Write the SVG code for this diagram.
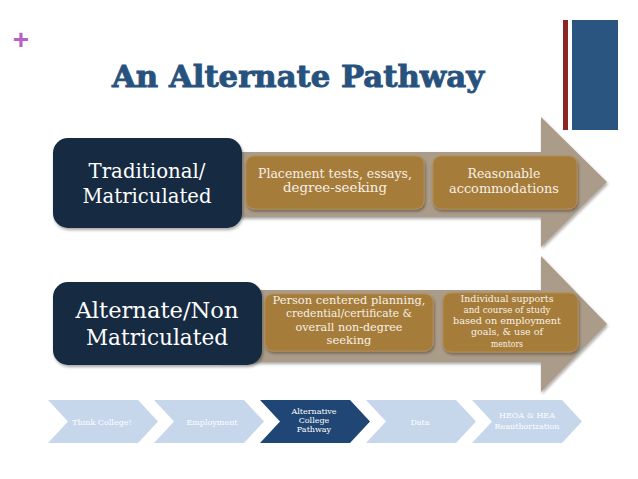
<svg xmlns="http://www.w3.org/2000/svg" width="638" height="479" viewBox="0 0 638 479">
<defs>
<filter id="sh" x="-10%" y="-10%" width="130%" height="140%">
<feDropShadow dx="1" dy="2" stdDeviation="1.5" flood-color="#000" flood-opacity="0.35"/>
</filter>
<style>
.dark{fill:#132a42;filter:url(#sh)}
.gold{fill:#a67b3a;stroke:#b58d50;stroke-width:1;filter:url(#sh)}
.arrow{fill:#aa9c88;filter:url(#sh)}
.big{font-family:"DejaVu Serif",serif;fill:#ffffff;text-anchor:middle}
.sm{font-family:"DejaVu Serif",serif;fill:#f7f1e6;text-anchor:middle}
.chl{fill:#c6d6eb}
.chd{fill:#1f4675}
.ct{font-family:"DejaVu Serif",serif;font-size:8px;fill:#ffffff;text-anchor:middle}
</style>
</defs>
<rect width="638" height="479" fill="#ffffff"/>
<text x="21" y="49" font-family="Liberation Sans, sans-serif" font-weight="bold" font-size="28" fill="#b663c4" text-anchor="middle">+</text>
<rect x="563" y="20" width="5" height="110" fill="#8b2626"/>
<rect x="572" y="20" width="46" height="110" fill="#2a5580"/>
<text x="298" y="87" font-family="DejaVu Serif, serif" font-weight="bold" font-size="30" fill="#28527e" stroke="#28527e" stroke-width="0.9" text-anchor="middle" textLength="372" lengthAdjust="spacingAndGlyphs">An Alternate Pathway</text>
<g id="connectors">
<polygon class="arrow" points="200,152 541,152 541,117 607,182 541,247 541,217 200,217"/>
<polygon class="arrow" points="220,290 541,290 541,256 607,324 541,392 541,362 220,362"/>
</g>
<g id="traditional">
<rect class="dark" x="53" y="138" width="189" height="90" rx="15"/>
<text class="big" x="147" y="178" font-size="21" textLength="117" lengthAdjust="spacingAndGlyphs">Traditional/</text>
<text class="big" x="147" y="203" font-size="21" textLength="129" lengthAdjust="spacingAndGlyphs">Matriculated</text>
</g>
<g id="placement">
<rect class="gold" x="246" y="156" width="178" height="53" rx="8"/>
<text class="sm" x="335" y="178" font-size="12" textLength="154" lengthAdjust="spacingAndGlyphs">Placement tests, essays,</text>
<text class="sm" x="335" y="192" font-size="12" textLength="104" lengthAdjust="spacingAndGlyphs">degree-seeking</text>
</g>
<g id="reasonable">
<rect class="gold" x="433" y="156" width="144" height="53" rx="8"/>
<text class="sm" x="504" y="178" font-size="12" textLength="73" lengthAdjust="spacingAndGlyphs">Reasonable</text>
<text class="sm" x="504" y="193" font-size="12" textLength="110" lengthAdjust="spacingAndGlyphs">accommodations</text>
</g>
<g id="alternate">
<rect class="dark" x="53" y="282" width="209" height="83" rx="15"/>
<text class="big" x="157" y="318" font-size="23" textLength="163" lengthAdjust="spacingAndGlyphs">Alternate/Non</text>
<text class="big" x="157" y="345" font-size="23" textLength="142" lengthAdjust="spacingAndGlyphs">Matriculated</text>
</g>
<g id="person">
<rect class="gold" x="265" y="294" width="168" height="57" rx="8"/>
<text class="sm" x="349" y="304" font-size="11.5" textLength="153" lengthAdjust="spacingAndGlyphs">Person centered planning,</text>
<text class="sm" x="349" y="317" font-size="11.5" textLength="126" lengthAdjust="spacingAndGlyphs">credential/certificate &amp;</text>
<text class="sm" x="349" y="331" font-size="11.5" textLength="107" lengthAdjust="spacingAndGlyphs">overall non-degree</text>
<text class="sm" x="349" y="344" font-size="11.5" textLength="45" lengthAdjust="spacingAndGlyphs">seeking</text>
</g>
<g id="individual">
<rect class="gold" x="443" y="293" width="135" height="59" rx="8"/>
<text class="sm" x="507" y="302" font-size="10" textLength="93" lengthAdjust="spacingAndGlyphs">Individual supports</text>
<text class="sm" x="507" y="313" font-size="10" textLength="87" lengthAdjust="spacingAndGlyphs">and course of study</text>
<text class="sm" x="507" y="324" font-size="10" textLength="108" lengthAdjust="spacingAndGlyphs">based on employment</text>
<text class="sm" x="507" y="335" font-size="10" textLength="72" lengthAdjust="spacingAndGlyphs">goals,  &amp; use of</text>
<text class="sm" x="507" y="347" font-size="10" textLength="32" lengthAdjust="spacingAndGlyphs">mentors</text>
</g>
<g id="nav1">
<polygon class="chl" points="48,400 138,400 158,421.5 138,443 48,443 68,421.5"/>
<text class="ct" x="102" y="425">Think College!</text>
</g>
<g id="nav2">
<polygon class="chl" points="154,400 244,400 264,421.5 244,443 154,443 174,421.5"/>
<text class="ct" x="212" y="425">Employment</text>
</g>
<g id="nav3">
<polygon class="chd" points="260,400 350,400 370,421.5 350,443 260,443 280,421.5"/>
<text class="ct" x="314" y="414">Alternative</text>
<text class="ct" x="314" y="423">College</text>
<text class="ct" x="314" y="432">Pathway</text>
</g>
<g id="nav4">
<polygon class="chl" points="366,400 456,400 476,421.5 456,443 366,443 386,421.5"/>
<text class="ct" x="420" y="425">Data</text>
</g>
<g id="nav5">
<polygon class="chl" points="472,400 562,400 582,421.5 562,443 472,443 492,421.5"/>
<text class="ct" x="527" y="418">HEOA &amp; HEA</text>
<text class="ct" x="527" y="429">Reauthorization</text>
</g>
</svg>
